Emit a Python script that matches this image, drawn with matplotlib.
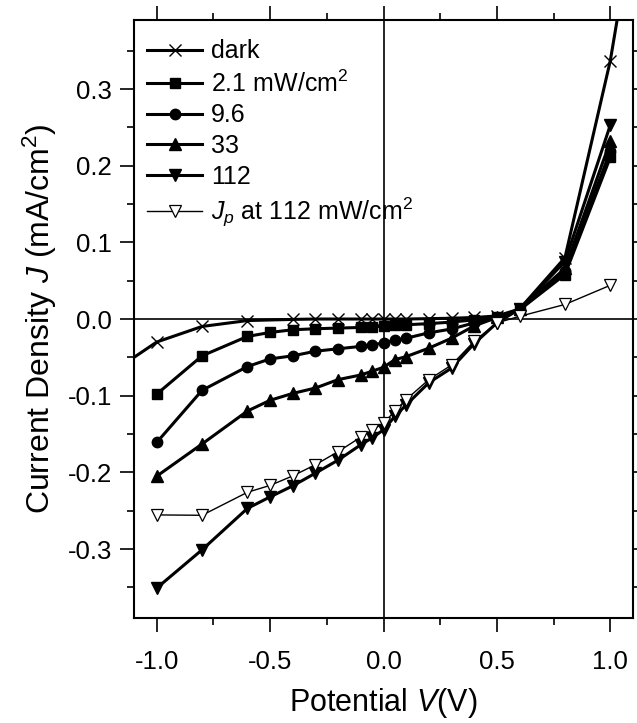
import matplotlib
matplotlib.use('Agg')
import matplotlib.pyplot as plt
from matplotlib.ticker import MultipleLocator

plt.rcParams['font.family'] = ['Liberation Sans', 'DejaVu Sans']
plt.rcParams['mathtext.fontset'] = 'custom'
plt.rcParams['mathtext.rm'] = 'Liberation Sans'
plt.rcParams['mathtext.it'] = 'Liberation Sans:italic'

# potential (V)
v_full = [-1.0, -0.8, -0.6, -0.5, -0.4, -0.3, -0.2, -0.1, -0.05, 0.0, 0.05, 0.1,
          0.2, 0.3, 0.4, 0.5, 0.6, 0.8, 1.0]
v_dark = [-1.2, -1.0, -0.8, -0.6, -0.4, -0.3, -0.2, -0.1, -0.05, 0.0, 0.05, 0.1,
          0.2, 0.3, 0.4, 0.5, 0.6, 0.8, 1.0, 1.2]

# current density (mA/cm2)
j_dark = [-0.070, -0.030, -0.0097, -0.002, -0.0005, 0.0, 0.0, 0.0, 0.0, 0.0, 0.0, 0.0,
          0.0005, 0.001, 0.002, 0.004, 0.013, 0.080, 0.337, 0.69]
j_21 = [-0.098, -0.048, -0.0227, -0.0175, -0.014, -0.0127, -0.0118, -0.011, -0.0105,
        -0.009, -0.008, -0.0075, -0.006, -0.004, -0.001, 0.003, 0.012, 0.058, 0.211]
j_96 = [-0.161, -0.093, -0.062, -0.052, -0.048, -0.042, -0.0388, -0.0357, -0.034,
        -0.031, -0.028, -0.025, -0.018, -0.013, -0.005, 0.001, 0.012, 0.062, 0.219]
j_33 = [-0.205, -0.163, -0.120, -0.106, -0.097, -0.090, -0.079, -0.073, -0.068,
        -0.063, -0.053, -0.049, -0.038, -0.025, -0.009, 0.002, 0.013, 0.066, 0.232]
j_112 = [-0.351, -0.301, -0.247, -0.232, -0.2176, -0.201, -0.184, -0.164, -0.155,
         -0.1445, -0.127, -0.112, -0.083, -0.064, -0.032, -0.005, 0.013, 0.075, 0.253]
j_p112 = [-0.2555, -0.256, -0.226, -0.217, -0.2046, -0.190, -0.173, -0.154, -0.1445,
          -0.136, -0.120, -0.105, -0.079, -0.060, -0.029, -0.005, 0.0035, 0.019, 0.044]

fig = plt.figure(figsize=(6.37, 7.23), dpi=100)
ax = fig.add_axes([0.2104, 0.1452, 0.7833, 0.8271])

ax.axhline(0, color='black', lw=1.2, zorder=1)
ax.axvline(0, color='black', lw=1.2, zorder=1)

lw = 2.2
ax.plot(v_dark, j_dark, '-', color='black', lw=lw, marker='x', ms=8, mew=1.0,
        label='dark')
ax.plot(v_full, j_21, '-', color='black', lw=lw, marker='s', ms=6.5,
        label='2.1 mW/cm$^2$')
ax.plot(v_full, j_96, '-', color='black', lw=lw, marker='o', ms=7.5,
        label='9.6')
ax.plot(v_full, j_33, '-', color='black', lw=lw, marker='^', ms=8.5,
        label='33')
ax.plot(v_full, j_112, '-', color='black', lw=lw, marker='v', ms=8.5,
        label='112')
ax.plot(v_full, j_p112, '-', color='black', lw=1.0, marker='v', ms=9,
        mfc='white', mec='black', mew=0.9,
        label='$J_p$ at 112 mW/cm$^2$')

ax.set_xlim(-1.1, 1.1)
ax.set_ylim(-0.39, 0.39)
ax.xaxis.set_major_locator(MultipleLocator(0.5))
ax.xaxis.set_minor_locator(MultipleLocator(0.25))
ax.yaxis.set_major_locator(MultipleLocator(0.1))
ax.yaxis.set_minor_locator(MultipleLocator(0.05))
ax.xaxis.set_major_formatter(plt.FuncFormatter(lambda x, p: f'{x:.1f}'))
ax.yaxis.set_major_formatter(plt.FuncFormatter(lambda y, p: f'{y:.1f}'))

ax.tick_params(which='both', direction='out', top=True, right=True,
               width=1.2, labelsize=18.5, pad=6)
ax.tick_params(axis='x', which='both', pad=13)
ax.tick_params(which='major', length=10)
ax.tick_params(which='minor', length=5)
for s in ax.spines.values():
    s.set_linewidth(1.5)

ax.set_xlabel('Potential $V$(V)', fontsize=22, labelpad=9)
ax.set_ylabel('Current Density $J$ (mA/cm$^2$)', fontsize=23, labelpad=6)

ax.legend(loc='upper left', bbox_to_anchor=(0.011, 0.98), borderaxespad=0,
          frameon=False, fontsize=18, handlelength=2.2, handletextpad=0.35,
          labelspacing=0.27, borderpad=0.3)

fig.savefig('out.png', dpi=100)
